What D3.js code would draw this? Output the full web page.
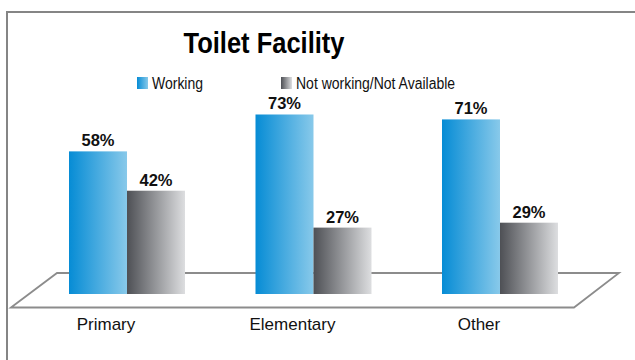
<!DOCTYPE html>
<html>
<head>
<meta charset="utf-8">
<script src="https://cdn.jsdelivr.net/npm/d3@7"></script>
<style>
  html, body { margin: 0; padding: 0; background: #fff; }
  svg { display: block; font-family: "Liberation Sans", Arial, sans-serif; }
</style>
</head>
<body>
<svg id="chart" width="635" height="360"></svg>
<script>
// Chart data
const title = "Toilet Facility";
const categories = ["Primary", "Elementary", "Other"];
const seriesNames = ["Working", "Not working/Not Available"];
const working = [58, 73, 71];
const notWorking = [42, 27, 29];

const svg = d3.select("#chart");
const defs = svg.append("defs");

// Horizontal gradients for the two series
function gradient(id, from, to) {
  const g = defs.append("linearGradient").attr("id", id)
    .attr("x1", "0%").attr("x2", "100%").attr("y1", "0%").attr("y2", "0%");
  g.append("stop").attr("offset", "0%").attr("stop-color", from);
  g.append("stop").attr("offset", "100%").attr("stop-color", to);
}
gradient("gBlue", "#068cd5", "#88c9ea");
gradient("gGray", "#4e5055", "#dddee0");
const fills = ["url(#gBlue)", "url(#gGray)"];

// Outer frame (top and left edges)
svg.append("path")
  .attr("d", "M7,360 V12 H635")
  .attr("fill", "none").attr("stroke", "#858585").attr("stroke-width", 2);

// Scales
const x0 = d3.scaleBand().domain(categories).range([69, 558]).paddingInner(0.378).paddingOuter(0);
const x1 = d3.scaleBand().domain(seriesNames).range([0, x0.bandwidth()]).padding(0);
const y = d3.scaleLinear().domain([0, 100]).range([294, 48.1]);

// 3D floor
const floorBack = 273, floorFront = 307.5;
svg.append("path")
  .attr("d", `M11,${floorFront} L57,${floorBack} H619 L574,${floorFront} Z`)
  .attr("fill", "#fff").attr("stroke", "#8c8c8c").attr("stroke-width", 1.8);

// Bars
const rows = categories.map((c, i) => ({ cat: c, vals: [working[i], notWorking[i]] }));
const groups = svg.append("g").selectAll("g").data(rows).join("g")
  .attr("transform", d => `translate(${x0(d.cat)},0)`);

groups.selectAll("rect").data(d => d.vals.map((v, j) => ({ v, j })))
  .join("rect")
  .attr("x", d => x1(seriesNames[d.j]))
  .attr("y", d => y(d.v))
  .attr("width", x1.bandwidth())
  .attr("height", d => y(0) - y(d.v))
  .attr("fill", d => fills[d.j]);

// Value labels
groups.selectAll("text").data(d => d.vals.map((v, j) => ({ v, j })))
  .join("text")
  .attr("x", d => x1(seriesNames[d.j]) + x1.bandwidth() / 2)
  .attr("y", d => y(d.v) - 5)
  .attr("text-anchor", "middle")
  .attr("font-weight", "bold")
  .attr("font-size", 16.5)
  .attr("fill", "#111")
  .text(d => d.v + "%");

// Category labels
svg.append("g").selectAll("text").data(categories).join("text")
  .attr("x", d => x0(d) + x0.bandwidth() / 2 - 21)
  .attr("y", 330)
  .attr("text-anchor", "middle")
  .attr("font-size", 17)
  .attr("fill", "#111")
  .text(d => d);

// Title
svg.append("text")
  .attr("transform", "translate(264,53) scale(1,1.17)")
  .attr("text-anchor", "middle")
  .attr("font-weight", "bold")
  .attr("font-size", 25.5)
  .attr("fill", "#000")
  .text(title);

// Legend
const legendX = [137, 281];
const legend = svg.append("g").selectAll("g").data(seriesNames).join("g")
  .attr("transform", (d, i) => `translate(${legendX[i]},77)`);
legend.append("rect")
  .attr("width", 11).attr("height", 12)
  .attr("fill", (d, i) => fills[i]);
legend.append("text")
  .attr("transform", "translate(15,11.5) scale(1,1.13)")
  .attr("font-size", 14)
  .attr("fill", "#111")
  .text(d => d);
</script>
</body>
</html>
